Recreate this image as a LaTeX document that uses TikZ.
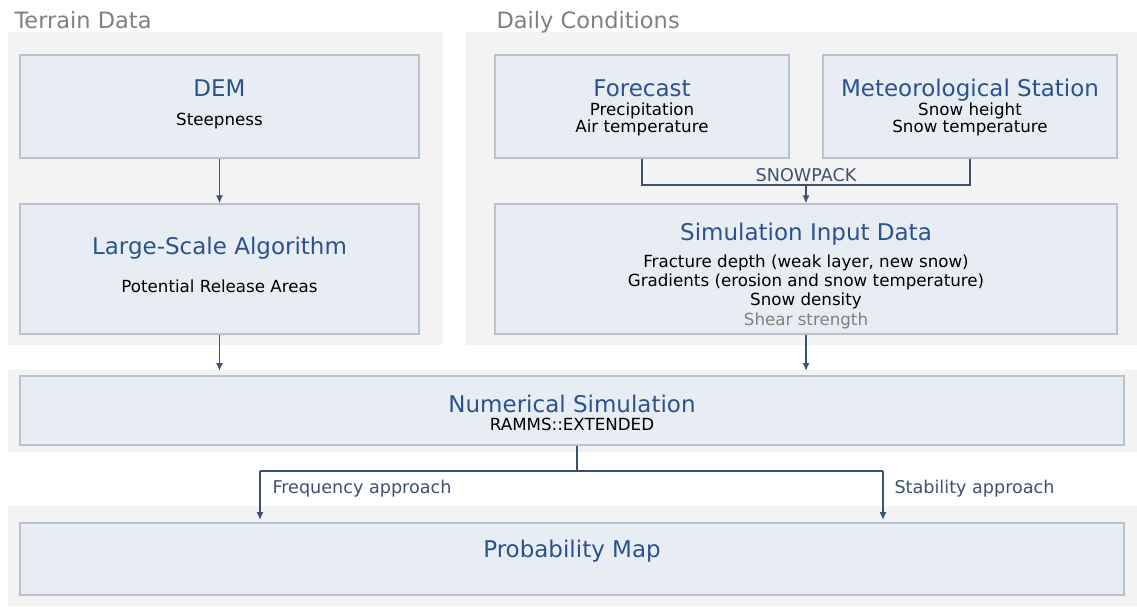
\documentclass[tikz,border=0pt]{standalone}
\usepackage{fontspec}
\setmainfont{DejaVu Sans}
\usepackage{xcolor}
\usetikzlibrary{arrows.meta}

\definecolor{BgGray}{HTML}{F3F3F3}
\definecolor{BoxFill}{HTML}{E8EDF4}
\definecolor{BoxLine}{HTML}{B8C3CF}
\definecolor{TitleBlue}{HTML}{2B5290}
\definecolor{LinkBlue}{HTML}{3D5170}
\definecolor{GroupGray}{HTML}{808080}

\begin{document}
\begin{tikzpicture}[x=1pt,y=-1pt,
  groupbg/.style={fill=BgGray, draw=none},
  box/.style={draw=BoxLine, fill=BoxFill, line width=1.2pt, inner sep=0pt},
  ttl/.style={anchor=base, text=TitleBlue, font=\fontsize{23}{24}\selectfont},
  body/.style={anchor=base, text=black, font=\fontsize{16.7}{17}\selectfont},
  grouplabel/.style={anchor=base west, text=GroupGray, font=\fontsize{22.5}{24}\selectfont},
  link/.style={draw=LinkBlue, line width=1.5pt},
  arr/.style={link, -{Latex[length=8pt,width=7pt]}},
  linklabel/.style={anchor=base, text=LinkBlue, font=\fontsize{17.6}{18}\selectfont}]
\useasboundingbox (0,0) rectangle (1137,606);

% group backgrounds
\fill[groupbg] (8,32) rectangle (443,345);
\fill[groupbg] (466,32) rectangle (1137,345);
\fill[groupbg] (8,370) rectangle (1137,452);
\fill[groupbg] (8,506) rectangle (1137,606);
\node[grouplabel] (terrain) at (11,28) {Terrain Data};
\node[grouplabel] (daily) at (493,28) {Daily Conditions};

% boxes
\node[box, minimum width=399pt, minimum height=103pt] (dem) at (219.5,106.5) {};
\node[box, minimum width=399pt, minimum height=130pt] (lsa) at (219.5,269) {};
\node[box, minimum width=294pt, minimum height=103pt] (fc) at (642,106.5) {};
\node[box, minimum width=294pt, minimum height=103pt] (met) at (970,106.5) {};
\node[box, minimum width=622pt, minimum height=130pt] (sid) at (806,269) {};
\node[box, minimum width=1104pt, minimum height=69pt] (nsim) at (572,410.5) {};
\node[box, minimum width=1104pt, minimum height=72pt] (pmap) at (572,559) {};

% texts
\node[ttl] (demT) at (219.5,96) {DEM};
\node[body] (demB) at (219.5,125) {Steepness};
\node[ttl] (lsaT) at (219.5,254) {Large-Scale Algorithm};
\node[body] (lsaB) at (219.5,292) {Potential Release Areas};
\node[ttl] (fcT) at (642,96) {Forecast};
\node[body] (fcB1) at (642,115) {Precipitation};
\node[body] (fcB2) at (642,132) {Air temperature};
\node[ttl] (metT) at (970,96) {Meteorological Station};
\node[body] (metB1) at (970,115) {Snow height};
\node[body] (metB2) at (970,132) {Snow temperature};
\node[ttl] (sidT) at (806,240) {Simulation Input Data};
\node[body] (sidB1) at (806,267) {Fracture depth (weak layer, new snow)};
\node[body] (sidB2) at (806,286) {Gradients (erosion and snow temperature)};
\node[body] (sidB3) at (806,305.5) {Snow density};
\node[body, text=GroupGray] (sidB4) at (806,325) {Shear strength};
\node[ttl] (nsimT) at (572,412) {Numerical Simulation};
\node[body] (nsimB) at (572,430) {RAMMS::EXTENDED};
\node[ttl] (pmapT) at (572,557) {Probability Map};

% connectors
\coordinate (sp) at (806,185);
\coordinate (split) at (577,471);
\coordinate (fa) at (260,471);
\coordinate (sa) at (883,471);
\draw[arr] (dem) -- (lsa);
\draw[arr] (lsa.south) -- (lsa.south |- 0,371);
\draw[arr] (sid.south) -- (sid.south |- 0,371);
\draw[link] (fc.south) |- (sp) -| (met.south);
\draw[arr] (sp) -- (sid.north);
\node[linklabel] (snowpack) at (806,181) {SNOWPACK};
\draw[link] (nsim.south -| split) -- (split);
\draw[link] (fa) -- (sa);
\draw[arr] (fa) -- ++(0,49);
\draw[arr] (sa) -- ++(0,49);
\node[linklabel, anchor=base west] (freq) at (269,493) {Frequency approach};
\node[linklabel, anchor=base west] (stab) at (891,493) {Stability approach};
\end{tikzpicture}
\end{document}
